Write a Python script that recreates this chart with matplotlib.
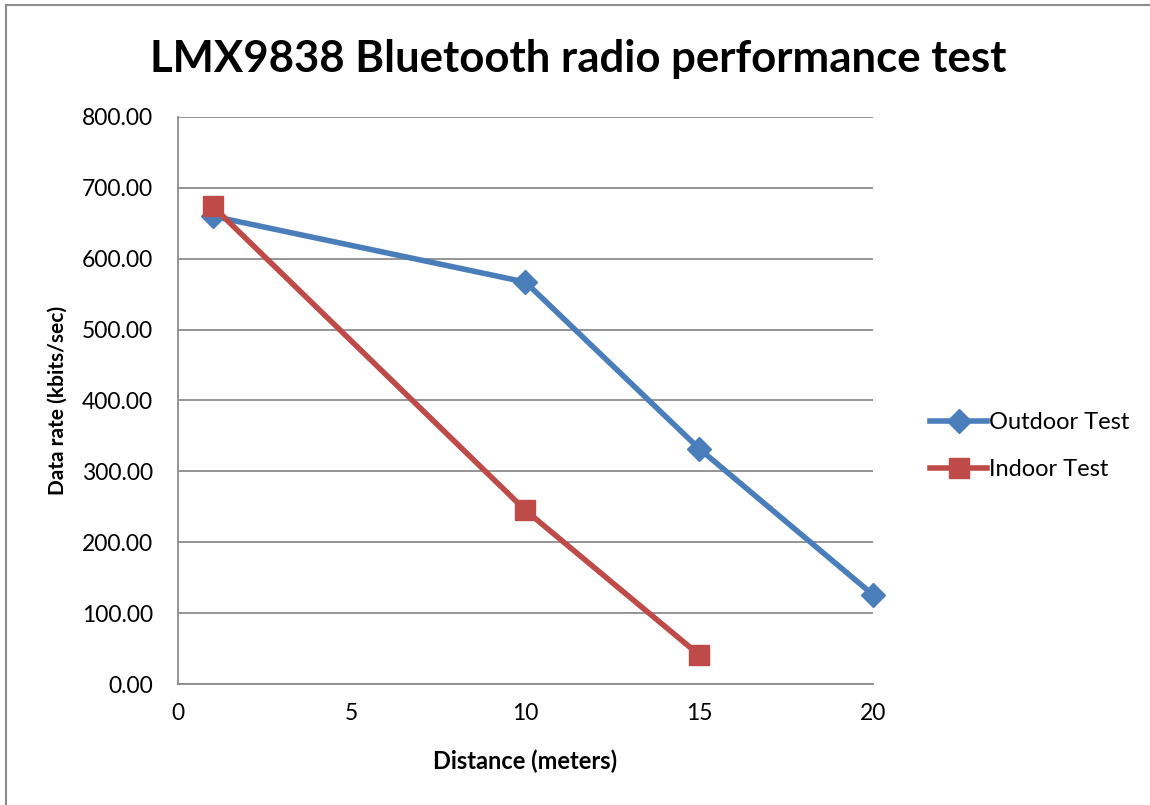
import matplotlib.pyplot as plt
from matplotlib.lines import Line2D

plt.rcParams['font.family'] = ['Lato', 'DejaVu Sans']

# Data
outdoor_dist = [1, 10, 15, 20]
outdoor_rate = [660, 567, 332, 126]
indoor_dist = [1, 10, 15]
indoor_rate = [674, 245, 41]

fig = plt.figure(figsize=(11.5, 8.05), dpi=100)
# chart frame (only top and left edges are visible in the original crop)
fig.lines.append(Line2D([0.005, 1.0], [0.994, 0.994], transform=fig.transFigure,
                        color='#8c8c8c', linewidth=1.5))
fig.lines.append(Line2D([0.005, 0.005], [0.0, 0.994], transform=fig.transFigure,
                        color='#8c8c8c', linewidth=1.5))
ax = fig.add_axes([0.1548, 0.1503, 0.6043, 0.7044])

ax.plot(outdoor_dist, outdoor_rate, color='#4a7ebb', linewidth=4,
        marker='D', markersize=12, label='Outdoor Test', clip_on=False)
ax.plot(indoor_dist, indoor_rate, color='#be4b48', linewidth=4,
        marker='s', markersize=14, label='Indoor Test', clip_on=False)

ax.set_xlim(0, 20)
ax.set_ylim(0, 800)
ax.set_xticks([0, 5, 10, 15, 20])
ax.set_yticks(range(0, 801, 100))
ax.set_yticklabels([f'{v:.2f}' for v in range(0, 801, 100)])
ax.tick_params(labelsize=16.5, length=0)
ax.tick_params(axis='y', pad=18)
ax.tick_params(axis='x', pad=14)
ax.grid(axis='y', color='#8c8c8c', linewidth=1.3)
ax.set_axisbelow(True)
for s in ['top', 'right']:
    ax.spines[s].set_visible(False)
for s in ['left', 'bottom']:
    ax.spines[s].set_color('#8c8c8c')
    ax.spines[s].set_linewidth(1.3)

ax.set_xlabel('Distance (meters)', fontsize=17, fontweight='bold', labelpad=18)
ax.set_ylabel('Data rate (kbits/sec)', fontsize=15, fontweight='bold', labelpad=10)
fig.suptitle('LMX9838 Bluetooth radio performance test', fontsize=31.5,
             fontweight='bold', x=0.503, y=0.952)

ax.legend(loc='center left', bbox_to_anchor=(1.052, 0.42), frameon=False,
          fontsize=17, handlelength=2.4, labelspacing=1.1, handletextpad=0.1)

fig.savefig('out.png', dpi=100)
